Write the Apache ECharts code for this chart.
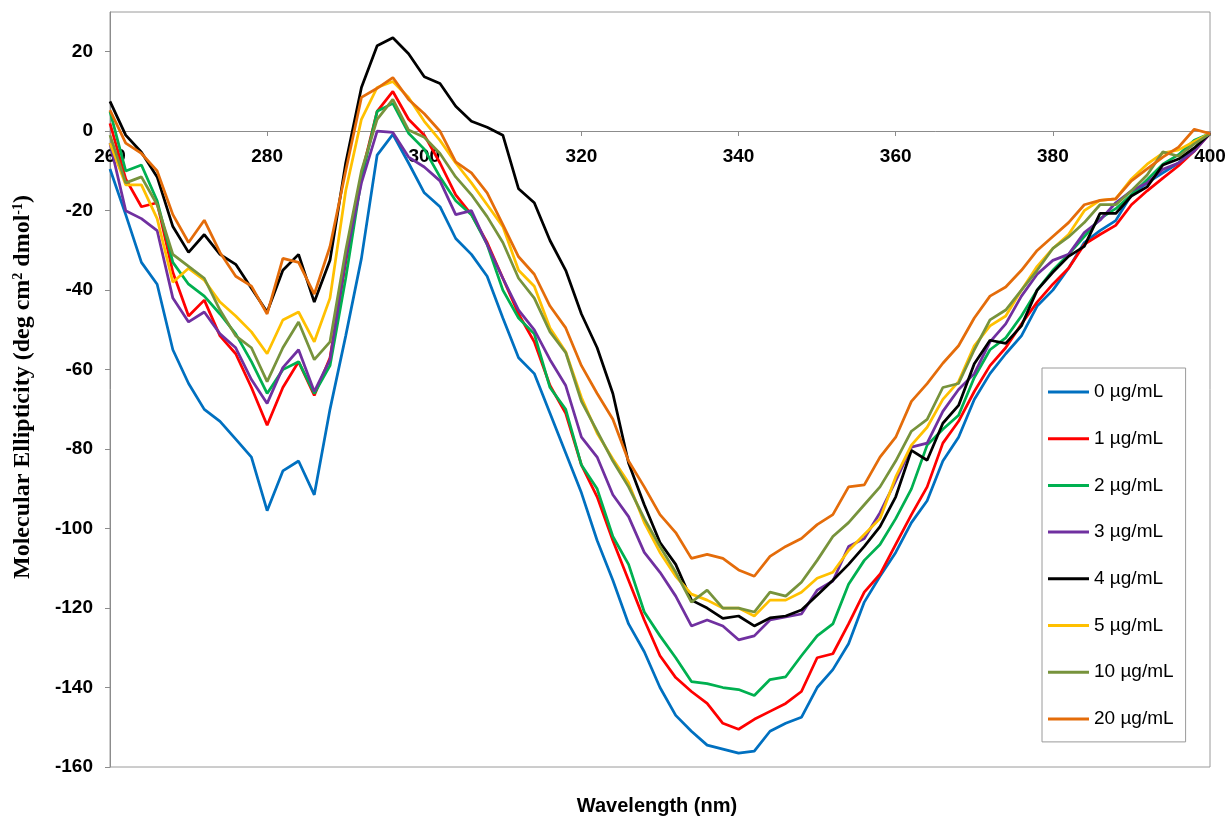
<!DOCTYPE html>
<html><head><meta charset="utf-8">
<script src="https://cdn.jsdelivr.net/npm/echarts@6/dist/echarts.min.js"></script>
<style>html,body{margin:0;padding:0;background:#fff}#chart{width:1229px;height:820px}</style>
</head><body><div id="chart"></div>
<script>
const wavelengths = [260,262,264,266,268,270,272,274,276,278,280,282,284,286,288,290,292,294,296,298,300,302,304,306,308,310,312,314,316,318,320,322,324,326,328,330,332,334,336,338,340,342,344,346,348,350,352,354,356,358,360,362,364,366,368,370,372,374,376,378,380,382,384,386,388,390,392,394,396,398,400];
const seriesNames = ['0 µg/mL','1 µg/mL','2 µg/mL','3 µg/mL','4 µg/mL','5 µg/mL','10 µg/mL','20 µg/mL'];
const seriesColors = ['#0070C0','#FF0000','#00B050','#7030A0','#000000','#FFC000','#77933C','#E46C0A'];
const c0 = [-9.5,-21,-33,-38.5,-55,-63.5,-70,-73,-77.5,-82,-95.5,-85.5,-83,-91.5,-70,-51.5,-32,-6,-0.8,-8,-15.5,-19,-27,-31,-36.5,-47,-57,-61,-71,-81,-91,-103,-113,-124,-131,-140,-147,-151,-154.5,-155.5,-156.5,-156,-151,-149,-147.5,-140,-135.5,-129,-118.5,-112,-106,-98.5,-93,-83,-77,-67.5,-61,-56,-51.5,-44,-40,-34.5,-28,-25,-22.5,-16,-13,-10.5,-8,-4.5,-0.5];
const c1 = [2,-12,-19,-18,-35.5,-46.5,-42.5,-51.5,-56,-64.5,-74,-64.5,-58,-66.5,-57,-33,-11,5,10,3,-1,-8,-16,-21,-28,-37,-46,-53,-64,-71,-84,-92,-103,-113,-123,-132,-137.5,-141,-144,-149,-150.5,-148,-146,-144,-141,-132.5,-131.5,-124,-116,-111.5,-104,-96.5,-89.5,-78.5,-73,-65.5,-59,-54.5,-48.5,-43,-38.5,-34.5,-28.5,-26,-23.7,-18.5,-15,-11.8,-8.7,-5,-0.5];
const c2 = [5,-10,-8.5,-17.5,-33,-38.5,-41.5,-46,-51,-58,-66,-60,-58,-66,-59,-37,-12,5,7,-0.5,-4.5,-11.5,-17.5,-21,-28.5,-40,-47,-51,-64.5,-70,-84,-90,-102,-109,-121,-127,-132.5,-138.5,-139,-140,-140.5,-142,-138,-137.3,-132,-127,-124,-114,-108,-104,-97.5,-90,-79,-75,-71.5,-62,-55,-52,-46.5,-40,-35,-31,-26.5,-22,-19.5,-16,-12.2,-8.3,-5.9,-2.3,-0.6];
const c3 = [-3,-20,-22,-25,-42,-48,-45.5,-51,-54.5,-62.5,-68.5,-59.5,-55,-65.5,-57.5,-32,-13,0,-0.3,-6.5,-9,-12.5,-21,-20,-28.5,-37,-45,-50,-57.5,-64,-77,-82,-91.5,-97,-106,-111,-117,-124.5,-123,-124.5,-128,-127,-123,-122.2,-121.5,-115.5,-113.2,-104.5,-102.5,-96,-88,-79.5,-78.5,-70.5,-65,-61,-53,-48.5,-41.5,-36,-32.5,-31,-25.5,-22.4,-18,-15,-13,-9.6,-8,-5,-0.6];
const c4 = [7.5,-1,-5.3,-11.5,-24,-30.5,-26,-31,-33.5,-39.5,-45.5,-35,-31,-43,-32.5,-8,11,21.5,23.5,19.5,13.7,12,6.3,2.5,1,-1,-14.5,-18,-27.5,-35,-46,-54.5,-66,-83.5,-94,-103.5,-109,-118,-120,-122.6,-122,-124.5,-122.5,-122,-120.5,-116.8,-113,-109,-104.5,-99.5,-92,-80.3,-82.8,-73.5,-69,-58.5,-52.6,-53.4,-49,-40,-35.5,-31.5,-29,-20.7,-20.7,-16.3,-14,-8.5,-7,-4.2,-0.6];
const c5 = [-3,-13.5,-13.5,-22,-38,-34.5,-37.5,-43,-46.5,-50.5,-56,-47.5,-45.5,-53,-42,-15,3,11,12.5,8.5,2.5,-2.3,-8,-13,-18.5,-24,-35,-39,-49.5,-55.5,-67,-76,-82.5,-88.5,-98.5,-106,-112,-116.5,-118,-120,-120,-122,-118,-118,-116,-112.5,-111,-105.5,-101.5,-97.5,-87,-79,-74.5,-67.5,-63,-54,-49,-46.5,-40,-34,-29.5,-26,-20,-17.4,-17,-12,-8.3,-5.5,-4.7,-2.6,-0.6];
const c10 = [-1,-13,-11.5,-18.5,-31,-34,-37,-45,-51.5,-54.5,-63,-54.5,-48,-57.5,-53,-30,-10,3,8,0.3,-1.5,-5.6,-11.5,-16,-21.5,-28,-37,-42,-50.5,-55.7,-68,-75.5,-83,-89.5,-97.5,-104.5,-111,-118.5,-115.5,-120,-120,-121,-116,-117,-113.5,-108,-102,-98.5,-94,-89.5,-83,-75.5,-72.5,-64.5,-63.5,-55,-47.5,-45,-40,-35,-29.5,-26.6,-23,-18.5,-18.5,-15,-11,-5.2,-6.3,-3.2,-0.6];
const c20 = [5.3,-3,-5.6,-10,-21,-28,-22.4,-30.5,-36.5,-39,-46,-32,-33,-41,-29,-10,8.5,10.8,13.5,8,4.4,0,-7.7,-10.5,-15.5,-23.5,-31.6,-36,-44,-49.5,-59,-66,-72.5,-83,-89.5,-96.5,-101,-107.5,-106.5,-107.5,-110.4,-112,-107,-104.5,-102.5,-99,-96.5,-89.5,-89,-82,-77,-68,-63.5,-58.4,-54,-47,-41.5,-39.2,-35,-30,-26.5,-23,-18.5,-17.4,-17,-12.5,-9.5,-6.5,-4,0.5,-0.6];
const seriesValues = [c0,c1,c2,c3,c4,c5,c10,c20];

const chart = echarts.init(document.getElementById('chart'), null, {renderer:'canvas'});
const axisGray = '#8c8c8c';
const option = {
  animation: false,
  backgroundColor: '#ffffff',
  grid: {left:110, right:19, top:12, bottom:53, show:true, borderColor:'#9a9a9a', borderWidth:1, backgroundColor:'transparent'},
  xAxis: {
    type:'value', min:260, max:400, interval:20,
    position:'bottom', offset:-636,
    axisLine:{show:true, onZero:false, lineStyle:{color:axisGray, width:1}},
    axisTick:{show:true, length:5, lineStyle:{color:axisGray}},
    splitLine:{show:false},
    axisLabel:{color:'#000', fontFamily:'Liberation Sans, Arial', fontWeight:'bold', fontSize:19, margin:16}
  },
  yAxis: {
    type:'value', min:-160, max:30, interval:20,
    axisLine:{show:true, lineStyle:{color:axisGray, width:1}},
    axisTick:{show:true, length:5, lineStyle:{color:axisGray}},
    splitLine:{show:false},
    axisLabel:{color:'#000', fontFamily:'Liberation Sans, Arial', fontWeight:'bold', fontSize:19, margin:17, showMaxLabel:false}
  },
  legend: {
    orient:'vertical', left:1042, top:368,
    icon:'rect', itemWidth:41, itemHeight:3, itemGap:26.7,
    padding:[14,12,13,6],
    borderColor:'#9a9a9a', borderWidth:1, backgroundColor:'#ffffff',
    textStyle:{fontSize:19, fontFamily:'Liberation Sans, Arial', color:'#000', lineHeight:20},
    data: seriesNames
  },
  graphic: [
    {type:'text', x:657, y:806, z:10, style:{text:'Wavelength (nm)', font:'bold 20px "Liberation Sans", Arial', fill:'#000', align:'center', verticalAlign:'middle'}},
    {type:'text', x:23, y:387, rotation:Math.PI/2, z:10, style:{
      text:'Molecular Ellipticity (deg cm{sup|2} dmol{sup|-1})',
      font:'bold 24px "Liberation Serif", "Times New Roman", serif', fill:'#000', align:'center', verticalAlign:'middle',
      rich:{sup:{fontSize:14, fontWeight:'bold', fontFamily:'Liberation Serif', verticalAlign:'top', fill:'#000'}}
    }}
  ],
  series: seriesValues.map((vals, k) => ({
    name: seriesNames[k], type:'line', showSymbol:false, symbol:'none', smooth:false,
    color: seriesColors[k],
    lineStyle:{width:2.75, color:seriesColors[k]},
    data: wavelengths.map((w, i) => [w, vals[i]])
  }))
};
chart.setOption(option);
</script></body></html>
